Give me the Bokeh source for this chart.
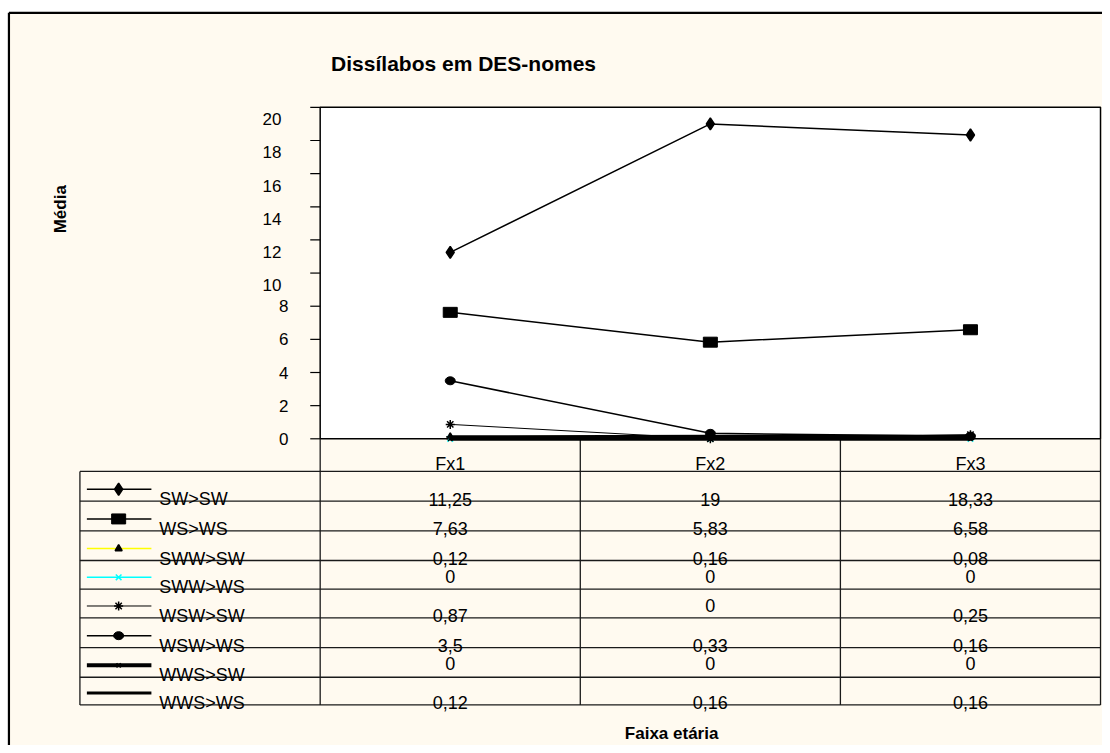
from bokeh.plotting import figure
from bokeh.models import Range1d
from bokeh.embed import file_html
from bokeh.resources import INLINE
from bokeh.core.properties import value
import math

# ---------------- data ----------------
categories = ["Fx1", "Fx2", "Fx3"]
series_names = ["SW>SW", "WS>WS", "SWW>SW", "SWW>WS", "WSW>SW", "WSW>WS", "WWS>SW", "WWS>WS"]
sw_sw = [11.25, 19, 18.33]
ws_ws = [7.63, 5.83, 6.58]
sww_sw = [0.12, 0.16, 0.08]
sww_ws = [0, 0, 0]
wsw_sw = [0.87, 0, 0.25]
wsw_ws = [3.5, 0.33, 0.16]
wws_sw = [0, 0, 0]
wws_ws = [0.12, 0.16, 0.16]
y_ticks = [0, 2, 4, 6, 8, 10, 12, 14, 16, 18, 20]
chart_title = "Dissílabos em DES-nomes"
y_title = "Média"
x_title = "Faixa etária"

series_values = [sw_sw, ws_ws, sww_sw, sww_ws, wsw_sw, wsw_ws, wws_sw, wws_ws]

# ---------------- layout helpers (picture pixels -> data) ----------------
COL_W = 262.0
PX_UNIT = 16.75
def X(px):
    return 1 + (px - 453.0) / COL_W
def Y(py):
    return (443.0 - py) / PX_UNIT
def DY(dpx):
    return dpx / PX_UNIT

FONT = value("Liberation Sans")
CREAM = "#FFFAF0"

p = figure(width=1102, height=745, output_backend="svg", toolbar_location=None,
           x_axis_type=None, y_axis_type=None, title=None, min_border=0,
           x_range=Range1d(X(0), X(1110)), y_range=Range1d(Y(753), Y(0)))
p.grid.visible = False
p.outline_line_color = None
p.background_fill_color = "white"
p.border_fill_color = "white"

# chart area background + border
p.quad(left=[X(8.5)], right=[X(1115)], top=[Y(12.5)], bottom=[Y(760)], fill_color=CREAM, line_color=None)
p.segment(x0=[X(8.5), X(8.5)], y0=[Y(12.5), Y(12.5)], x1=[X(1115), X(8.5)], y1=[Y(12.5), Y(760)],
          line_color="black", line_width=2.2)

# plot area
x_lo, x_hi = 0.5, len(categories) + 0.5
y_lo, y_hi = y_ticks[0], y_ticks[-1]
p.quad(left=[x_lo], right=[x_hi], bottom=[y_lo], top=[y_hi], fill_color="white",
       line_color="black", line_width=1.5)

# y ticks and labels
p.segment(x0=[X(312)] * len(y_ticks), x1=[x_lo] * len(y_ticks), y0=y_ticks, y1=y_ticks,
          line_color="black", line_width=1.2)
lab_y = [v - DY(12) if v >= 10 else v for v in y_ticks]
lab_x = [X(283) if v >= 10 else X(290) for v in y_ticks]
p.text(x=lab_x, y=lab_y, text=[str(v) for v in y_ticks], text_align="right",
       text_baseline="middle", text_font=FONT, text_font_size="17px", text_color="black")

# titles
p.text(x=[X(333)], y=[Y(64)], text=[chart_title], text_align="left", text_baseline="middle",
       text_font=FONT, text_font_size="21px", text_font_style="bold", text_color="black")
p.text(x=[X(60)], y=[Y(211)], text=[y_title], angle=math.pi / 2, text_align="center",
       text_baseline="middle", text_font=FONT, text_font_size="17px", text_font_style="bold",
       text_color="black")
p.text(x=[X(676)], y=[Y(741)], text=[x_title], text_align="center", text_baseline="middle",
       text_font=FONT, text_font_size="17px", text_font_style="bold", text_color="black")

# ---------------- data table grid ----------------
header_bottom = 476
row_bottoms = [506, 536, 566, 595, 624, 654, 684, 712]
grid_col = "#1a1a1a"
h_lines = [header_bottom] + row_bottoms
p.segment(x0=[X(80)] * len(h_lines), x1=[x_hi] * len(h_lines), y0=[Y(v) for v in h_lines],
          y1=[Y(v) for v in h_lines], line_color=grid_col, line_width=1.3)
col_edges = [x_lo + i for i in range(len(categories) + 1)]
p.segment(x0=col_edges, x1=col_edges, y0=[0] * len(col_edges), y1=[Y(712)] * len(col_edges),
          line_color=grid_col, line_width=1.3)
p.segment(x0=[X(80)], x1=[X(80)], y0=[Y(header_bottom)], y1=[Y(712)], line_color=grid_col, line_width=1.3)

# column headers
xs = [i + 1 for i in range(len(categories))]
p.text(x=xs, y=[Y(468)] * len(xs), text=categories, text_align="center", text_baseline="middle",
       text_font=FONT, text_font_size="18px", text_color="black")

def fmt(v):
    return ("%g" % v).replace(".", ",")

# ---------------- series styles ----------------
styles = {
    "SW>SW": dict(color="black", lw=1.5, marker="diamond", msize=12, mcolor="black"),
    "WS>WS": dict(color="black", lw=1.5, marker="rect", msize=0, mcolor="black"),
    "SWW>SW": dict(color="#FFFF00", lw=1.5, marker="triangle", msize=7, mcolor="black"),
    "SWW>WS": dict(color="#00FFFF", lw=1.5, marker="x", msize=8, mcolor="#00FFFF"),
    "WSW>SW": dict(color="black", lw=1.0, marker="asterisk", msize=9, mcolor="black"),
    "WSW>WS": dict(color="black", lw=1.5, marker="ellipse", msize=0, mcolor="black"),
    "WWS>SW": dict(color="black", lw=4.0, marker="x", msize=6, mcolor="black"),
    "WWS>WS": dict(color="black", lw=3.0, marker="dash", msize=8, mcolor="black"),
}

def draw_marker(xv, yv, st):
    m = st["marker"]
    if m == "rect":
        p.rect(x=xv, y=yv, width=14, height=10, width_units="screen", height_units="screen",
               fill_color=st["mcolor"], line_color=st["mcolor"])
    elif m == "ellipse":
        p.ellipse(x=xv, y=yv, width=10, height=8, width_units="screen", height_units="screen",
                  fill_color=st["mcolor"], line_color=st["mcolor"])
    else:
        p.scatter(x=xv, y=yv, marker=m, size=st["msize"], fill_color=st["mcolor"],
                  line_color=st["mcolor"], line_width=1.5)

# plotted series (later series drawn on top, as in the original)
for name, vals in zip(series_names, series_values):
    st = styles[name]
    p.line(x=xs, y=vals, line_color=st["color"], line_width=st["lw"])
    draw_marker(xs, vals, st)

# legend keys + labels + values in the table
for i, (name, vals) in enumerate(zip(series_names, series_values)):
    st = styles[name]
    rb = row_bottoms[i]
    rt = header_bottom if i == 0 else row_bottoms[i - 1]
    ky = Y(rb - 12)
    p.line(x=[X(87), X(152)], y=[ky, ky], line_color=st["color"], line_width=st["lw"])
    draw_marker([X(119)], [ky], st)
    p.text(x=[X(160)], y=[Y(rb - 2)], text=[name], text_align="left", text_baseline="middle",
           text_font=FONT, text_font_size="18px", text_color="black")
    ty = [Y(rb - 2) if v != 0 else Y((rb + rt) / 2 + 1.5) for v in vals]
    p.text(x=xs, y=ty, text=[fmt(v) for v in vals], text_align="center", text_baseline="middle",
           text_font=FONT, text_font_size="18px", text_color="black")

open("out.html", "w").write(file_html(p, INLINE))
